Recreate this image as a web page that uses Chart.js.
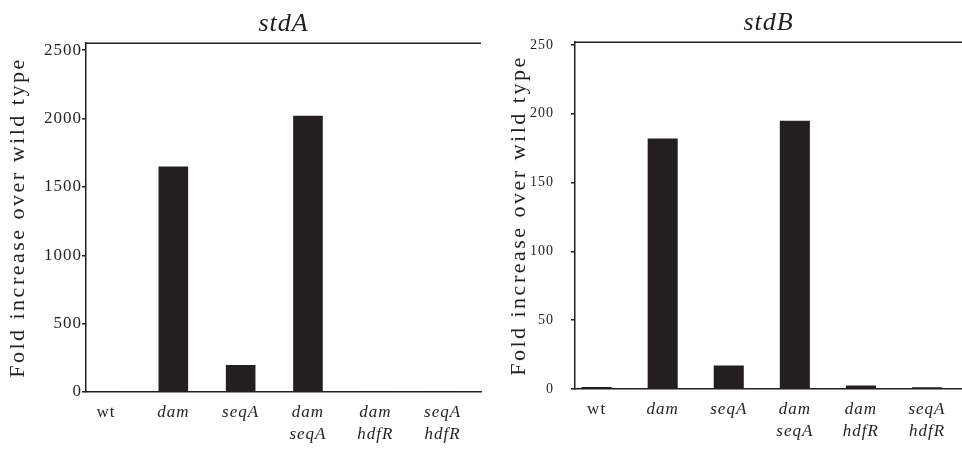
<!DOCTYPE html>
<html>
<head>
<meta charset="utf-8">
<script src="https://cdn.jsdelivr.net/npm/chart.js@4.4.1/dist/chart.umd.min.js"></script>
<style>
html, body { margin: 0; padding: 0; background: #fff; }
#wrap { position: relative; width: 962px; height: 449px; }
#boxA { position: absolute; left: 0; top: 0; width: 490px; height: 449px; }
#boxB { position: absolute; left: 490px; top: 0; width: 472px; height: 449px; }
</style>
</head>
<body>
<div id="wrap">
  <div id="boxA"><canvas id="chartA" width="490" height="449"></canvas></div>
  <div id="boxB"><canvas id="chartB" width="472" height="449"></canvas></div>
</div>
<script>
// strains on the x axis (multi-line labels)
const strains = [['wt'], ['dam'], ['seqA'], ['dam', 'seqA'], ['dam', 'hdfR'], ['seqA', 'hdfR']];
// fold increase over wild type
const stdA = [1, 1650, 197, 2020, 2, 1];
const stdB = [1.5, 182, 17, 195, 2.5, 1.2];
const stdATicks = [0, 500, 1000, 1500, 2000, 2500];
const stdBTicks = [0, 50, 100, 150, 200, 250];

const ink = '#231f20';
const serif = "'Liberation Serif', 'DejaVu Serif', serif";

// wider letter spacing like the printed figure
const spacing = {
  id: 'spacing',
  beforeDraw(chart) { chart.ctx.letterSpacing = '1px'; },
  afterUpdate(chart) {
    const y = chart.scales.y;
    if (y && !y._spaced) {
      const orig = y.drawTitle;
      y.drawTitle = function (a) {
        this.ctx.letterSpacing = '2.5px';
        orig.call(this, a);
        this.ctx.letterSpacing = '1px';
      };
      y._spaced = true;
    }
  }
};

// line along the top of the plot area
const topBorder = {
  id: 'topBorder',
  afterDraw(chart) {
    const {ctx, chartArea: a} = chart;
    ctx.save();
    ctx.strokeStyle = ink;
    ctx.lineWidth = 1.5;
    ctx.beginPath();
    ctx.moveTo(a.left, a.top);
    ctx.lineTo(a.right, a.top);
    ctx.stroke();
    ctx.restore();
  }
};

const makeChart = (id, title, values, yTicks, o) => {
  return new Chart(document.getElementById(id), {
    type: 'bar',
    data: {
      datasets: [{
        data: values.map((v, i) => ({x: i, y: v})),
        backgroundColor: ink,
        borderWidth: 0,
        categoryPercentage: 1,
        barPercentage: o.barPct
      }]
    },
    options: {
      responsive: false,
      animation: false,
      layout: {padding: {left: 0, right: o.padRight, top: 0, bottom: 0}},
      plugins: {
        legend: {display: false},
        tooltip: {enabled: false},
        title: {
          display: true,
          text: title,
          fullSize: false,
          color: ink,
          font: {family: serif, size: 26, style: 'italic', weight: 'normal'},
          padding: {top: o.titleTop, bottom: 3}
        }
      },
      scales: {
        x: {
          type: 'linear',
          min: o.xMin,
          max: o.xMax,
          offset: false,
          afterBuildTicks: s => { s.ticks = strains.map((_, i) => ({value: i})); },
          afterFit: s => { s.height = o.xHeight; },
          border: {color: ink, width: 1.5},
          grid: {display: false, drawTicks: false},
          ticks: {
            autoSkip: false,
            maxRotation: 0,
            padding: 9,
            color: ink,
            callback: v => strains[v],
            font: ctx => ({
              family: serif,
              size: 17,
              lineHeight: 1.3,
              style: ctx.index === 0 ? 'normal' : 'italic'
            })
          }
        },
        y: {
          min: 0,
          max: o.yMax,
          afterBuildTicks: s => { s.ticks = yTicks.map(v => ({value: v})); },
          afterFit: s => { s.width = o.yWidth; },
          border: {color: ink, width: 1.5},
          grid: {drawOnChartArea: false, drawTicks: true, tickLength: 4, color: ink, lineWidth: 1.5},
          ticks: {
            padding: o.tickPad,
            color: ink,
            callback: v => String(v),
            font: {family: serif, size: o.tickSize}
          },
          title: {
            display: true,
            text: 'Fold increase over wild type',
            color: ink,
            font: {family: serif, size: 22},
            padding: {top: o.yTitlePad, bottom: 0}
          }
        }
      }
    },
    plugins: [spacing, topBorder]
  });
};

makeChart('chartA', 'stdA', stdA, stdATicks, {
  yMax: 2551, xMin: -0.297, xMax: 5.57, barPct: 0.44,
  yWidth: 86, xHeight: 57, padRight: 9, titleTop: 9,
  tickPad: 0, tickSize: 17, yTitlePad: 5
});

makeChart('chartB', 'stdB', stdB, stdBTicks, {
  yMax: 252, xMin: -0.327, xMax: 5.53, barPct: 0.455,
  yWidth: 85, xHeight: 60, padRight: 0, titleTop: 8,
  tickPad: 17, tickSize: 14, yTitlePad: 16
});
</script>
</body>
</html>
